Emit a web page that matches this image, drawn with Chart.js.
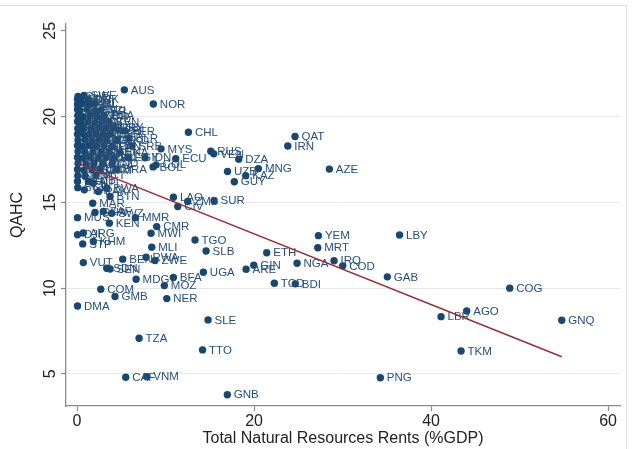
<!DOCTYPE html>
<html>
<head>
<meta charset="utf-8">
<script src="https://cdn.jsdelivr.net/npm/chart.js@4"></script>
<style>
  html, body { margin: 0; padding: 0; background: #ffffff; }
  #wrap { width: 636px; height: 449px; }
</style>
</head>
<body>
<div id="wrap"><canvas id="chart" width="636" height="449"></canvas></div>
<script>
// Country codes, natural resource rents (% of GDP) and QAHC score, one entry per country.
const countries = [
  "CHE","SWE","ISL","NLD","DNK","LUX","JPN","FIN","IRL",
  "BEL","AUT","DEU","GBR","NZL","FRA","ITA","ESP","KOR","USA",
  "SGP","ISR","CAN","PRT","CZE","SVN","GRC","HRV","HUN","POL","SVK","URY","CRI","PER",
  "EST","LTU","LVA","CYP","MLT","BGR","BLR","ROU","MEX","TUR","THA","JOR","MKD","SRB",
  "LBN","TUN","ARM","GEO","ALB","PAN","MDA","DOM","JAM","SLV","CHN","LKA","IDN","COL","BOL",
  "BRB","MDV","CPV","PRY","PHL","FJI","EGY","BLZ","UKR","SYC","KGZ","IND","BRA",
  "BHS","WSM","TON","GTM","NIC","HND","VCT","LCA","HTI","NPL","BGD","TJK","PAK","BWA","BTN","MAR",
  "GHA","ZAF","SWZ","MUS","KEN","MMR","CMR","MWI","MLI","DJI","ARG","STP","KHM",
  "VUT","BEN","RWA","ZWE","SDN","SEN","TGO","SLB","UGA","BFA","MDG","MOZ","NER","GMB","COM","DMA",
  "TZA","CAF","VNM","GNB","SLE","TTO","LAO","SUR","ZMB","CIV",
  "ETH","GIN","ARE","TCD","BDI","NGA","QAT","IRN","AZE","MNG","UZB","KAZ","GUY","DZA","RUS","VEN","ECU","MYS","CHL","NOR","AUS",
  "YEM","MRT","LBY","IRQ","COD","GAB","COG","AGO","LBR","GNQ","TKM","PNG"
];
const rents = [
  0.11,0.79,0.05,0.45,1.24,0.05,0.56,1.36,1.92,
  0.05,0.34,1.13,2.03,2.71,0.08,0.68,1.47,2.26,3.05,
  0.05,0.45,1.24,2.03,2.82,3.62,0.08,0.79,1.58,2.49,3.28,4.07,4.63,5.42,
  0.05,0.56,1.36,2.15,2.94,3.73,5.88,0.11,0.90,1.69,2.49,3.39,4.52,6.21,
  0.05,0.56,1.36,2.15,3.05,3.95,0.11,0.90,1.81,2.71,3.62,4.86,7.68,8.93,8.59,
  0.05,0.68,1.47,2.37,3.28,4.18,5.76,0.11,1.02,1.92,2.94,3.95,4.50,
  0.05,0.79,1.69,2.60,0.08,0.90,2.15,0.05,1.28,1.84,0.08,0.82,2.41,3.35,3.73,1.77,
  2.03,2.97,3.92,0.05,3.65,6.59,9.00,8.36,8.44,0.05,0.71,0.64,1.84,
  0.71,5.16,7.80,8.81,3.35,3.73,13.33,14.58,14.27,10.88,6.67,9.86,10.14,4.29,2.68,0.05,
  7.01,5.50,7.88,16.98,14.80,14.18,10.89,15.48,12.50,11.38,
  21.43,19.97,19.10,22.29,24.66,24.86,24.63,23.81,28.51,20.49,17.00,19.06,17.77,18.27,15.11,15.45,11.15,9.49,12.58,8.62,5.34,
  27.27,27.20,36.44,29.04,30.02,35.06,48.89,44.03,41.13,54.77,43.39,34.27
];
const qahc = [
  21.18,21.23,21.02,21.06,20.99,20.71,20.77,20.69,20.79,
  20.41,20.36,20.43,20.33,20.38,20.06,19.99,20.08,20.01,20.05,
  19.72,19.66,19.70,19.64,19.73,19.67,19.31,19.37,19.30,19.36,19.33,19.38,19.23,19.17,
  18.97,19.02,18.95,19.01,18.96,19.00,18.76,18.62,18.67,18.60,18.66,18.63,18.61,18.29,
  18.31,18.27,18.32,18.26,18.30,18.25,17.96,17.91,17.97,17.92,17.95,17.90,17.60,17.19,17.07,
  17.62,17.57,17.63,17.58,17.61,17.56,17.60,17.27,17.22,17.28,17.23,17.26,16.92,
  16.92,16.87,16.91,16.86,16.56,16.52,16.57,16.22,16.21,16.14,15.86,15.73,15.63,15.83,15.34,14.95,
  14.41,14.47,14.37,14.11,13.79,14.11,13.59,13.20,12.39,13.11,13.22,12.58,12.72,
  11.49,11.69,11.80,11.61,11.16,11.12,12.81,12.17,10.93,10.62,10.52,10.15,9.39,9.51,9.94,8.96,
  7.08,4.81,4.84,3.79,8.15,6.40,15.30,15.10,15.05,14.76,
  12.06,11.34,11.10,10.29,10.25,11.45,18.84,18.29,16.94,16.97,16.80,16.55,16.20,17.52,17.98,17.83,17.54,18.12,19.09,20.74,21.56,
  13.06,12.36,13.10,11.60,11.30,10.66,10.00,8.67,8.34,8.13,6.34,4.78
];

// Linear fit end points
const fitRents = [0, 54.77];
const fitQahc = [17.29, 6.00];

// Axis ticks
const xTicks = [0, 20, 40, 60];
const yTicks = [5, 10, 15, 20, 25];

const NAVY = '#1a476f';
const MAROON = '#952f38';
const FONT = '"Liberation Sans", Arial, sans-serif';

const points = rents.map((r, i) => ({ x: r, y: qahc[i] }));
const fitLine = fitRents.map((r, i) => ({ x: r, y: fitQahc[i] }));

// White page with a thin outer frame along the top and right edges
const framePlugin = {
  id: 'frame',
  beforeDraw(chart) {
    const c = chart.ctx;
    c.save();
    c.fillStyle = '#ffffff';
    c.fillRect(0, 0, chart.width, chart.height);
    c.strokeStyle = '#dedede';
    c.lineWidth = 1;
    c.beginPath();
    c.moveTo(0, 5.5);
    c.lineTo(626.5, 5.5);
    c.lineTo(626.5, chart.height);
    c.stroke();
    c.restore();
  }
};

// Country code to the right of each marker
const markerLabels = {
  id: 'markerLabels',
  afterDatasetDraw(chart, args) {
    if (args.index !== 1) return;
    const c = chart.ctx;
    c.save();
    c.font = '11.5px ' + FONT;
    c.fillStyle = '#284f77';
    c.textAlign = 'left';
    c.textBaseline = 'middle';
    args.meta.data.forEach((pt, i) => {
      c.fillText(countries[i], pt.x + 6.5, pt.y + 0.5);
    });
    c.restore();
  }
};

new Chart(document.getElementById('chart'), {
  type: 'scatter',
  data: {
    datasets: [
      {
        type: 'line',
        data: fitLine,
        borderColor: MAROON,
        borderWidth: 1.5,
        pointRadius: 0,
        showLine: true,
        fill: false,
        clip: false
      },
      {
        data: points,
        backgroundColor: NAVY,
        borderWidth: 0,
        pointRadius: 3.7,
        pointHoverRadius: 3.7
      }
    ]
  },
  options: {
    responsive: false,
    animation: false,
    events: [],
    layout: { padding: { left: 0, right: 16, top: 24, bottom: 0 } },
    plugins: {
      legend: { display: false },
      tooltip: { enabled: false }
    },
    scales: {
      x: {
        type: 'linear',
        min: -1.25,
        max: 61.35,
        afterBuildTicks(scale) { scale.ticks = xTicks.map(v => ({ value: v })); },
        afterFit(scale) { scale.height = 43; },
        grid: { drawOnChartArea: false, drawTicks: true, tickLength: 5, tickColor: '#8a8a8a', tickWidth: 1.2 },
        border: { display: true, color: '#8a8a8a', width: 1.3 },
        ticks: { font: { family: FONT, size: 16 }, color: '#222222', padding: 1, maxRotation: 0, minRotation: 0 },
        title: {
          display: true,
          text: 'Total Natural Resources Rents (%GDP)',
          font: { family: FONT, size: 16 },
          color: '#222222',
          padding: { top: 0, bottom: 1 }
        }
      },
      y: {
        type: 'linear',
        min: 3.13,
        max: 25.4,
        afterBuildTicks(scale) { scale.ticks = yTicks.map(v => ({ value: v })); },
        afterFit(scale) { scale.width = 66; },
        grid: {
          drawTicks: true,
          tickLength: 5,
          tickColor: '#8a8a8a',
          tickWidth: 1.2,
          color: ctx => (ctx.tick && ctx.tick.value === 25) ? 'rgba(0,0,0,0)' : '#e5e9ec',
          lineWidth: 1
        },
        border: { display: true, color: '#8a8a8a', width: 1.3 },
        ticks: {
          font: { family: FONT, size: 16 },
          color: '#222222',
          padding: 2,
          minRotation: 90,
          maxRotation: 90,
          crossAlign: 'center'
        },
        title: {
          display: true,
          text: 'QAHC',
          font: { family: FONT, size: 16 },
          color: '#222222',
          padding: { top: 8, bottom: 0 }
        }
      }
    }
  },
  plugins: [framePlugin, markerLabels]
});
</script>
</body>
</html>
